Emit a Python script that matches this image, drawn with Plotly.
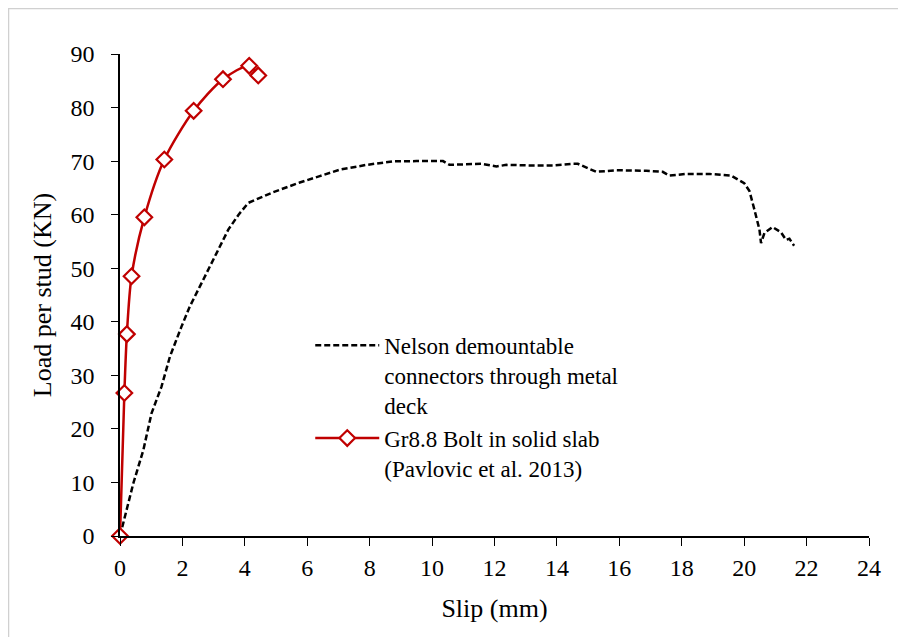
import plotly.graph_objects as go

# Nelson demountable connectors through metal deck (dashed black)
nelson_slip = [0, 0.11, 0.43, 0.75, 1.01, 1.33, 1.60, 1.97, 2.24, 2.56, 2.99, 3.31, 3.47, 3.8,
               4.11, 4.91, 5.76, 6.40, 7.04, 7.9, 8.75, 9.5, 10.35, 10.56, 11.0, 11.58, 12.06,
               12.38, 13.1, 13.87, 14.51, 14.67, 15.26, 15.9, 16.86, 17.39, 17.6, 18.14, 18.89,
               19.58, 20.0, 20.17, 20.33, 20.49, 20.54, 20.65, 20.91, 21.18, 21.34, 21.45, 21.6]
nelson_load = [0, 2.4, 9.9, 16.1, 22.9, 27.9, 33.5, 39.1, 42.9, 46.6, 51.6, 55.3, 57.2, 60.0,
               62.2, 64.2, 66.0, 67.2, 68.4, 69.3, 69.96, 70.0, 70.0, 69.3, 69.4, 69.5, 69.0,
               69.3, 69.2, 69.2, 69.5, 69.5, 68.0, 68.3, 68.2, 68.0, 67.3, 67.6, 67.6,
               67.3, 65.9, 64.4, 60.9, 57.2, 54.7, 56.6, 57.7, 56.7, 55.3, 55.5, 54.2]

# Gr8.8 Bolt in solid slab (Pavlovic et al. 2013)
bolt_slip = [0, 0.14, 0.22, 0.37, 0.78, 1.42, 2.36, 3.30, 4.14, 4.43]
bolt_load = [0, 26.7, 37.7, 48.5, 59.5, 70.3, 79.4, 85.3, 87.8, 86.0]

x_ticks = list(range(0, 25, 2))
y_ticks = list(range(0, 91, 10))

FONT = "Liberation Serif"

W, H = 898, 629
L, R, T, B = 112, 37, 46, 101
PW, PH = W - L - R, H - T - B

fig = go.Figure()
fig.add_trace(go.Scatter(
    x=nelson_slip, y=nelson_load, mode="lines",
    name="Nelson demountable<br>connectors through metal<br>deck",
    line=dict(color="black", width=2.5, dash="6px,3px"),
    cliponaxis=False,
))
fig.add_trace(go.Scatter(
    x=bolt_slip, y=bolt_load, mode="lines+markers",
    name="Gr8.8 Bolt in solid slab<br>(Pavlovic et al. 2013)",
    line=dict(color="#c00000", width=2.5, shape="spline", smoothing=0.8),
    marker=dict(symbol="diamond", size=12, color="white",
                line=dict(color="#c00000", width=2.2)),
    cliponaxis=False,
))

fig.update_layout(
    width=W, height=H,
    margin=dict(l=L, r=R, t=T, b=B),
    paper_bgcolor="white", plot_bgcolor="white",
    font=dict(family=FONT, size=24, color="black"),
    showlegend=True,
    legend=dict(
        x=0.254, y=0.44, xanchor="left", yanchor="top",
        bgcolor="rgba(0,0,0,0)", borderwidth=0,
        font=dict(family=FONT, size=23, color="black"),
        itemwidth=64, valign="top", tracegroupgap=0,
    ),
    xaxis=dict(
        range=[0, 24], tickvals=x_ticks, ticktext=[str(v) for v in x_ticks],
        showgrid=False, zeroline=False, showline=True, linecolor="black", linewidth=1.5,
        ticks="outside", ticklen=8, tickwidth=1.2, tickcolor="black",
        ticklabelstandoff=1, automargin=False,
        title=dict(text="Slip (mm)", font=dict(family=FONT, size=26), standoff=19),
    ),
    yaxis=dict(
        range=[0, 90], tickvals=y_ticks, ticktext=[str(v) for v in y_ticks],
        showgrid=False, zeroline=False, showline=True, linecolor="black", linewidth=1.5,
        ticks="outside", ticklen=7, tickwidth=1.2, tickcolor="black",
        ticklabelstandoff=12, automargin=False,
        title=dict(text="Load per stud (KN)", font=dict(family=FONT, size=26), standoff=11),
    ),
    shapes=[dict(type="rect", xref="paper", yref="paper",
                 x0=(0.5 - L) / PW, x1=(W + 20 - L) / PW,
                 y0=-(H + 20 - T - PH) / PH, y1=(PH + T - 0.5) / PH,
                 line=dict(color="#d0d0d0", width=1.5), layer="below")],
)

fig.write_html("out.html")
